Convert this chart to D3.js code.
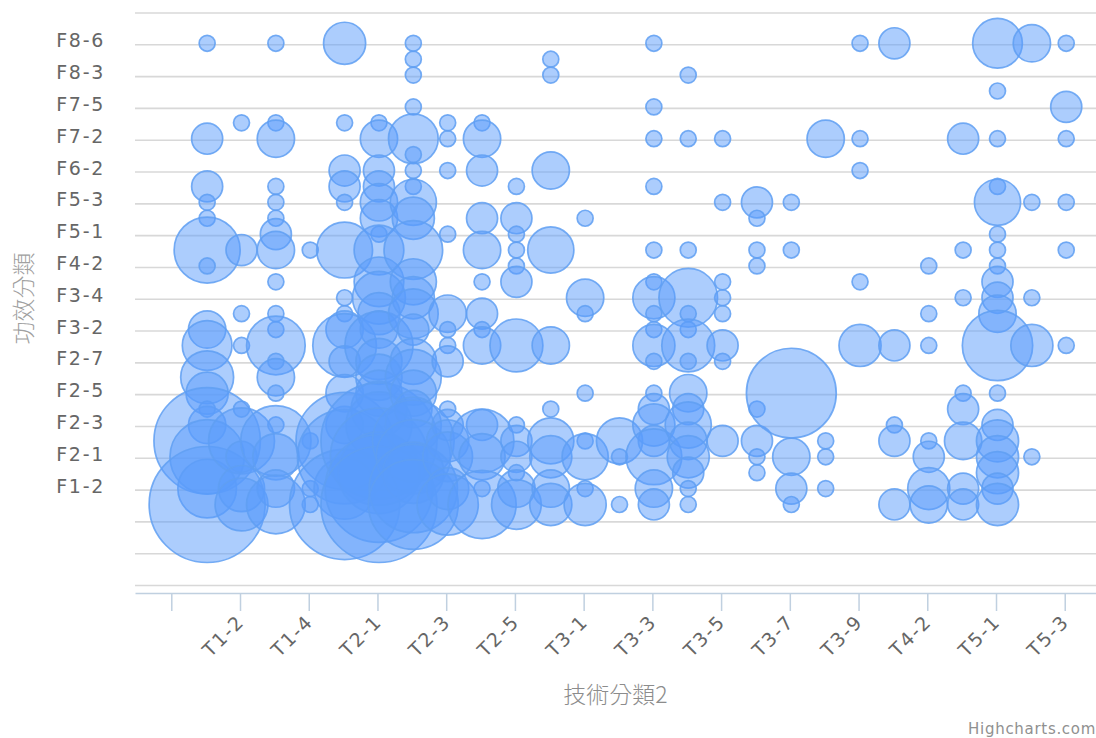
<!DOCTYPE html>
<html>
<head>
<meta charset="utf-8">
<style>
  html, body { margin: 0; padding: 0; background: #fff; overflow: hidden; }
  text { font-family: "DejaVu Sans", sans-serif; }
</style>
<script src="https://cdn.jsdelivr.net/npm/d3@7"></script>
</head>
<body>
<div id="chart"></div>
<script>
// categories along each axis, position in the list = value on the axis
var techCategories = ["T1-1","T1-2","T1-3","T1-4","T1-5","T2-1","T2-2","T2-3","T2-4","T2-5","T2-6",
  "T3-1","T3-2","T3-3","T3-4","T3-5","T3-6","T3-7","T3-8","T3-9","T4-1","T4-2","T4-3","T5-1","T5-2","T5-3"];
var effectCategories = ["F1-1","F1-2","F1-3","F2-1","F2-2","F2-3","F2-4","F2-5","F2-6","F2-7",
  "F3-1","F3-2","F3-3","F3-4","F4-1","F4-2","F4-3","F5-1","F5-2","F5-3","F6-1","F6-2","F7-1","F7-2",
  "F7-3","F7-5","F8-1","F8-3","F8-4","F8-6"];

// [effect index, patent count] per tech column
var T1_1 = [[29,1],[23,2],[20,2],[19,1],[18,1],[16,12],[15,1],[11,3],[10,6],[8,7],[7,4],[6,1],[5,3],[4,37],[3,16],[1,9],[0,45]];
var T1_2 = [[24,1],[16,2],[12,1],[10,1],[6,1],[4,12],[3,2],[1,5],[0,7]];
var T1_3 = [[29,1],[24,1],[23,3],[20,1],[19,1],[18,1],[17,2],[16,3],[14,1],[12,1],[11,1],[10,9],[9,1],[8,3],[7,1],[5,1],[4,14],[3,5],[1,3],[0,9]];
var T1_4 = [[16,1],[4,1],[1,1],[0,1]];
var T1_5 = [[29,4],[24,1],[21,2],[20,2],[19,1],[16,8],[13,1],[12,1],[11,3],[10,11],[9,2],[7,3],[5,3],[4,30],[3,28],[1,10],[0,40]];
var T2_1 = [[24,1],[23,3],[21,2],[20,2],[19,3],[18,3],[17,1],[16,6],[14,6],[13,7],[12,4],[11,3],[10,13],[9,5],[8,5],[7,5],[6,8],[5,12],[4,45],[3,30],[2,20],[1,38],[0,45]];
var T2_2 = [[29,1],[28,1],[27,1],[25,1],[23,6],[22,1],[21,1],[20,1],[19,5],[18,4],[16,9],[14,5],[13,4],[12,6],[11,2],[9,5],[8,8],[7,5],[6,3],[5,8],[4,20],[3,16],[2,10],[1,24],[0,25]];
var T2_3 = [[24,1],[23,1],[21,1],[17,1],[12,3],[11,1],[10,1],[9,2],[6,1],[5,2],[4,4],[3,6],[1,4],[0,10]];
var T2_4 = [[24,1],[23,3],[21,2],[18,2],[16,3],[14,1],[12,2],[11,1],[10,3],[5,2],[4,11],[3,5],[1,1],[0,13]];
var T2_5 = [[20,1],[18,2],[17,1],[16,1],[15,1],[14,2],[10,7],[5,1],[4,2],[3,2],[2,1],[1,3],[0,6]];
var T2_6 = [[28,1],[27,1],[21,3],[16,5],[10,3],[6,1],[4,5],[3,4],[1,3],[0,4]];
var T3_1 = [[18,1],[13,3],[12,1],[7,1],[4,1],[3,5],[1,1],[0,4]];
var T3_2 = [[4,5],[3,1],[0,1]];
var T3_3 = [[29,1],[25,1],[23,1],[20,1],[16,1],[14,1],[13,4],[12,1],[11,1],[10,4],[9,1],[7,1],[6,2],[5,4],[4,2],[3,8],[1,3],[0,2]];
var T3_4 = [[27,1],[23,1],[16,1],[13,9],[12,1],[11,1],[10,7],[9,1],[7,3],[6,2],[5,5],[4,3],[3,4],[2,2],[1,1],[0,1]];
var T3_5 = [[23,1],[19,1],[14,1],[13,1],[12,1],[10,2],[9,1],[4,2]];
var T3_6 = [[19,2],[18,1],[16,1],[15,1],[6,1],[4,2],[3,1],[2,1]];
var T3_7 = [[19,1],[16,1],[7,25],[3,3],[1,2],[0,1]];
var T3_8 = [[23,3],[4,1],[3,1],[1,1]];
var T3_9 = [[29,1],[23,1],[21,1],[14,1],[10,4]];
var T4_1 = [[29,2],[10,2],[5,1],[4,2],[0,2]];
var T4_2 = [[15,1],[12,1],[10,1],[4,1],[3,2],[1,4],[0,3]];
var T4_3 = [[23,2],[16,1],[13,1],[7,1],[6,2],[4,3],[1,2],[0,2]];
var T5_1 = [[29,6],[26,1],[23,1],[20,1],[19,5],[17,1],[16,1],[15,1],[14,2],[13,2],[12,3],[10,14],[7,1],[5,2],[4,4],[3,4],[2,4],[1,2],[0,4]];
var T5_2 = [[29,3],[19,1],[13,1],[10,4],[3,1]];
var T5_3 = [[29,1],[25,2],[23,1],[19,1],[16,1],[10,1]];

var columns = [T1_1,T1_2,T1_3,T1_4,T1_5,T2_1,T2_2,T2_3,T2_4,T2_5,T2_6,T3_1,T3_2,T3_3,T3_4,T3_5,T3_6,T3_7,T3_8,T3_9,T4_1,T4_2,T4_3,T5_1,T5_2,T5_3];

var width = 1096;
var height = 738;

var svg = d3.select("#chart").append("svg")
  .attr("width", width)
  .attr("height", height)
  .style("display", "block");

var x = d3.scaleLinear().domain([-2.056, 25.91]).range([135, 1096]);
var y = d3.scaleLinear().domain([-5, 31]).range([585, 12.5]);

// tick every second category, like the tickInterval of the source chart
var xTicks = d3.range(-1, 26, 2);
var yTicks = d3.range(-5, 32, 2);

// gridlines and left axis
var yAxis = svg.append("g")
  .attr("transform", "translate(135,0)")
  .call(d3.axisLeft(y)
    .tickValues(yTicks)
    .tickSize(-(width - 135))
    .tickPadding(30)
    .tickFormat(function(d) { return effectCategories[d] || ""; }));
yAxis.select(".domain").remove();
yAxis.selectAll("line").attr("stroke", "#d8d8d8").attr("stroke-width", 1.6);
yAxis.selectAll("text")
  .attr("fill", "#666")
  .attr("y", -3.5)
  .style("font-size", "19px")
  .style("letter-spacing", "1.7px");

// bottom axis
var xAxis = svg.append("g")
  .attr("transform", "translate(0,593)")
  .call(d3.axisBottom(x)
    .tickValues(xTicks)
    .tickSize(18)
    .tickSizeOuter(0)
    .tickFormat(function(d) { return techCategories[d] || ""; }));
xAxis.select(".domain").attr("stroke", "#c0d0e0").attr("stroke-width", 1.5);
xAxis.selectAll("line").attr("stroke", "#c0d0e0").attr("stroke-width", 1.5);
xAxis.selectAll("text")
  .attr("fill", "#666")
  .attr("text-anchor", "end")
  .attr("dy", 0)
  .attr("y", 0)
  .attr("transform", "translate(5,30) rotate(-45)")
  .style("font-size", "19px")
  .style("letter-spacing", "1.7px");

// area sized bubbles: 16px at the smallest count, 116px at the largest
var maxCount = d3.max(columns, function(c) { return d3.max(c, function(p) { return p[1]; }); });
var diameter = d3.scaleSqrt().domain([0, maxCount - 1]).range([16, 116]);

var bubbles = svg.append("g").attr("transform", "translate(1.5,-1)");

columns.forEach(function(points, col) {
  bubbles.selectAll("circle.c" + col)
    .data(points)
    .enter().append("circle")
    .attr("class", "c" + col)
    .attr("cx", x(col))
    .attr("cy", function(d) { return y(d[0]); })
    .attr("r", function(d) { return diameter(d[1] - 1) / 2; })
    .attr("fill", "#5a9bfb")
    .attr("fill-opacity", 0.5)
    .attr("stroke", "#5f9ff2")
    .attr("stroke-opacity", 0.85)
    .attr("stroke-width", 1.7);
});

// axis titles and credit
svg.append("text")
  .attr("x", 615.5).attr("y", 703)
  .attr("text-anchor", "middle")
  .attr("fill", "#8c8c8c")
  .style("font-family", "'Noto Sans CJK TC', sans-serif")
  .style("font-size", "23px")
  .style("font-weight", 300)
  .text("技術分類2");

svg.append("text")
  .attr("transform", "translate(31.5,298.5) rotate(-90)")
  .attr("text-anchor", "middle")
  .attr("fill", "#a0a0a0")
  .style("font-family", "'Noto Sans CJK TC', sans-serif")
  .style("font-size", "23px")
  .style("font-weight", 300)
  .text("功效分類");

svg.append("text")
  .attr("x", 1096).attr("y", 734)
  .attr("text-anchor", "end")
  .attr("fill", "#909090")
  .style("font-size", "15px")
  .style("letter-spacing", "0.7px")
  .text("Highcharts.com");
</script>
</body>
</html>
